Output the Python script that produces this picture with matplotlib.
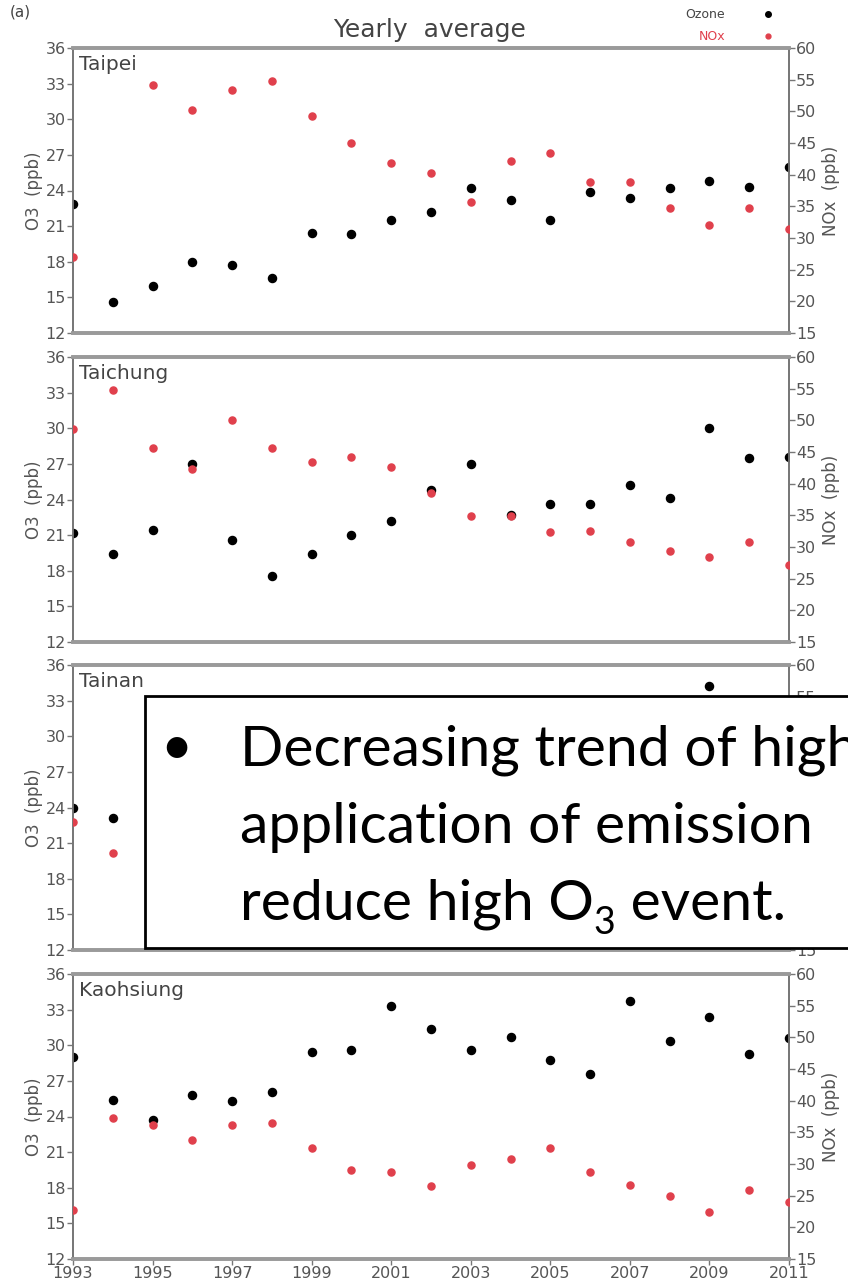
import numpy as np
import matplotlib
matplotlib.use("Agg")
from matplotlib import pyplot as plt
from matplotlib.patches import Rectangle

nan = np.nan
years = np.arange(1993, 2012)
stations = ["Taipei", "Taichung", "Tainan", "Kaohsiung"]

# yearly mean ozone (ppb)
o3_taipei = [22.9, 14.6, 16.0, 18.0, 17.7, 16.6, 20.4, 20.3, 21.5, 22.2,
             24.2, 23.2, 21.5, 23.9, 23.4, 24.2, 24.8, 24.3, 26.0]
o3_taichung = [21.2, 19.4, 21.4, 27.0, 20.6, 17.6, 19.4, 21.0, 22.2, 24.8,
               27.0, 22.7, 23.6, 23.6, 25.2, 24.1, 30.0, 27.5, 27.6]
# most of Tainan is hidden behind the text box
o3_tainan = [24.0, 23.1, nan, nan, nan, nan, nan, nan, nan, nan,
             nan, nan, nan, nan, nan, nan, 34.2, nan, nan]
o3_kaohsiung = [29.0, 25.4, 23.7, 25.8, 25.3, 26.1, 29.4, 29.6, 33.3, 31.4,
                29.6, 30.7, 28.8, 27.6, 33.7, 30.4, 32.4, 29.3, 30.6]

# yearly mean NOx (ppb)
nox_taipei = [27.0, nan, 54.1, 50.2, 53.4, 54.8, 49.3, 45.0, 41.8, 40.2,
              35.7, 42.2, 43.5, 38.9, 38.9, 34.8, 32.0, 34.8, 31.4]
nox_taichung = [48.7, 54.8, 45.6, 42.3, 50.1, 45.6, 43.5, 44.2, 42.6, 38.5,
                34.9, 34.9, 32.3, 32.5, 30.8, 29.3, 28.4, 30.8, 27.2]
nox_tainan = [35.2, 30.3, nan, nan, nan, nan, nan, nan, nan, nan,
              nan, nan, nan, nan, nan, nan, nan, nan, nan]
nox_kaohsiung = [22.8, 37.2, 36.2, 33.8, 36.2, 36.5, 32.5, 29.0, 28.7, 26.5,
                 29.8, 30.8, 32.6, 28.8, 26.7, 25.0, 22.5, 25.9, 24.0]

o3_all = [o3_taipei, o3_taichung, o3_tainan, o3_kaohsiung]
nox_all = [nox_taipei, nox_taichung, nox_tainan, nox_kaohsiung]

plt.rcParams['font.family'] = ['DejaVu Sans']
gray = '#777777'
txt = '#555555'
red = '#e0404c'

W, H = 848, 1288
fig = plt.figure(figsize=(W / 100, H / 100), dpi=100)

x0, x1 = 73, 789
tops = [48, 357, 665, 974]
ph = 285

for i, name in enumerate(stations):
    top = tops[i]
    ax = fig.add_axes([x0 / W, 1 - (top + ph) / H, (x1 - x0) / W, ph / H])
    ax2 = ax.twinx()
    ax.set_xlim(1993, 2011)
    ax.set_ylim(12, 36)
    ax2.set_ylim(15, 60)
    ax.set_yticks(np.arange(12, 37, 3))
    ax2.set_yticks(np.arange(15, 61, 5))
    ax.set_xticks(np.arange(1993, 2012, 2))
    for a in (ax, ax2):
        for side in ('left', 'right'):
            a.spines[side].set_linewidth(1.3)
            a.spines[side].set_color(gray)
        for side in ('top', 'bottom'):
            a.spines[side].set_linewidth(2.6)
            a.spines[side].set_color('#9a9a9a')
        a.tick_params(colors=gray, labelcolor=txt, labelsize=11.5, length=4, width=1, pad=1)
    if i < 3:
        ax.set_xticklabels([])
        ax.tick_params(axis='x', length=0)
    ax.set_ylabel("O3  (ppb)", color=txt, fontsize=12, labelpad=2)
    if i == 2:
        # right-hand labels of this panel sit under the text box
        ax2.set_yticklabels([str(v) if v in (55, 60, 15) else "" for v in range(15, 61, 5)])
    else:
        ax2.set_ylabel("NOx  (ppb)", color=txt, fontsize=12, labelpad=4)
    ax.scatter(years, o3_all[i], s=34, color='black', zorder=3)
    ax2.scatter(years, nox_all[i], s=26, color=red, zorder=3)
    ax.text(0.008, 0.975, name, transform=ax.transAxes, ha='left', va='top',
            fontsize=14.5, color='#444444')

fig.text(430 / W, 1 - 30 / H, "Yearly  average", ha='center', va='center',
         fontsize=18, color='#444444')
fig.text(10 / W, 1 - 12 / H, "(a)", ha='left', va='center', fontsize=11, color='#444444')
fig.text(725 / W, 1 - 15 / H, "Ozone", ha='right', va='center', fontsize=9, color='#444444')
fig.text(725 / W, 1 - 37 / H, "NOx", ha='right', va='center', fontsize=9, color=red)
fig.lines.append(plt.Line2D([768 / W], [1 - 14 / H], marker='o', ms=4, color='black',
                            transform=fig.transFigure, figure=fig))
fig.lines.append(plt.Line2D([768 / W], [1 - 36 / H], marker='o', ms=3.5, color=red,
                            transform=fig.transFigure, figure=fig))

# overlaid annotation box
box = Rectangle((145 / W, 1 - 948 / H), 900 / W, 252 / H, transform=fig.transFigure,
                facecolor='white', edgecolor='black', linewidth=2, zorder=10)
fig.patches.append(box)
fig.text(176 / W, 1 - 748 / H, "\u2022", ha='center', va='center', fontsize=40,
         family='Lato', zorder=11)
fs = 41
lines = ["Decreasing trend of high", "application of emission"]
for s, b in zip(lines, [765, 843]):
    fig.text(240 / W, 1 - b / H, s, ha='left', va='baseline', fontsize=fs,
             family='Lato', color='black', zorder=11)

# last line with a hand-placed subscript
r = fig.canvas.get_renderer()
xpos = 240
for part, size, dy in [("reduce high O", fs, 0), ("3", 27, 14), (" event.", fs, 0)]:
    t = fig.text(xpos / W, 1 - (920 + dy) / H, part, ha='left', va='baseline',
                 fontsize=size, family='Lato', color='black', zorder=11)
    xpos += t.get_window_extent(renderer=r).width

fig.savefig("out.png", dpi=100)
